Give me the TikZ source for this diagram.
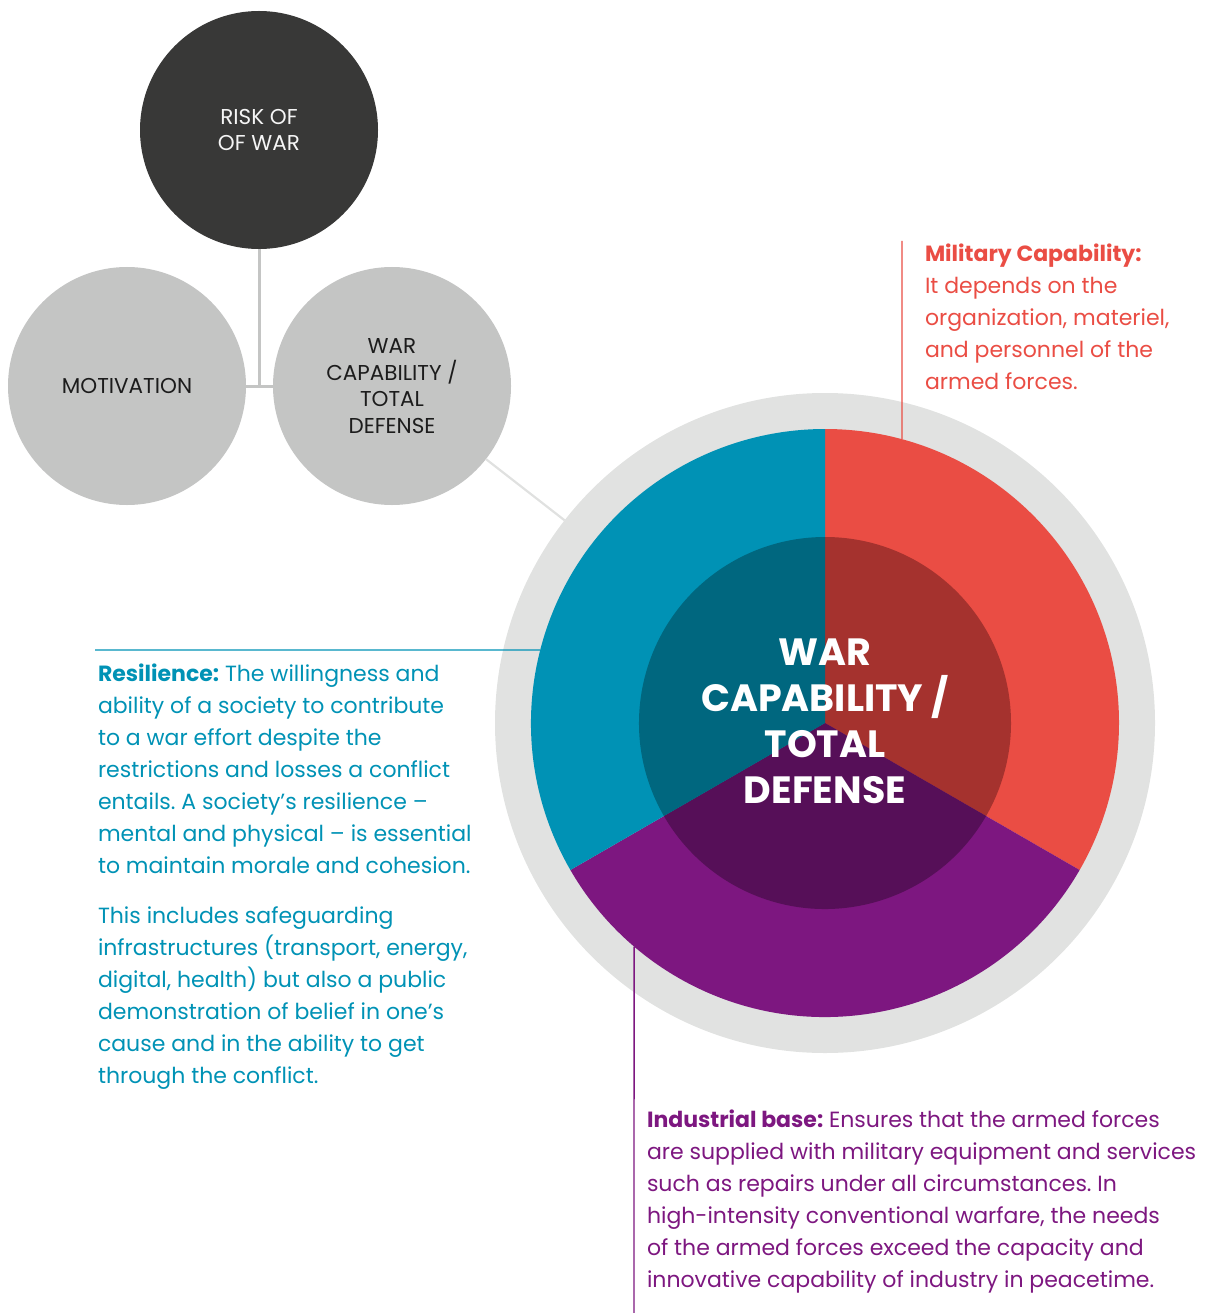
\documentclass[tikz,border=0pt]{standalone}
\usepackage{fontspec}
\setmainfont{Poppins}
\frenchspacing
\usetikzlibrary{calc}
\definecolor{ringgray}{HTML}{E1E2E1}
\definecolor{cgray}{HTML}{C4C5C4}
\definecolor{cdark}{HTML}{383837}
\definecolor{cblue}{HTML}{0092B5}
\definecolor{cred}{HTML}{EA4D44}
\definecolor{cpurple}{HTML}{7D1780}
\definecolor{dblue}{HTML}{00677F}
\definecolor{dred}{HTML}{A5322E}
\definecolor{dpurple}{HTML}{560F58}
\definecolor{linegray}{HTML}{E0E1E0}
\definecolor{conngray}{HTML}{C4C5C4}
\definecolor{ink}{HTML}{1C1C1C}
\begin{document}
\begin{tikzpicture}[x=1pt,y=1pt,
  bubble/.style={circle, minimum size=238pt, inner sep=0pt, outer sep=0pt, align=center,
    font=\fontsize{21.5}{26.7}\selectfont},
  conn/.style={draw=conngray, line width=3pt},
  annot/.style={anchor=base west, align=left, inner sep=0pt, outer sep=0pt,
    font=\fontsize{22}{32}\selectfont},
  tick/.style={line width=1.4pt}]
\useasboundingbox (0,0) rectangle (1211,-1313);
\coordinate (C) at (825,-723);
% outer grey ring
\node[circle, minimum size=660pt, inner sep=0pt, outer sep=0pt, fill=ringgray] (ring) at (C) {};
% coloured segments
\fill[cred] (C) -- ++(90:294) arc[start angle=90, end angle=-30, radius=294] -- cycle;
\fill[cpurple] (C) -- ++(-30:294) arc[start angle=-30, end angle=-150, radius=294] -- cycle;
\fill[cblue] (C) -- ++(210:294) arc[start angle=210, end angle=90, radius=294] -- cycle;
\fill[dred] (C) -- ++(90:186) arc[start angle=90, end angle=-30, radius=186] -- cycle;
\fill[dpurple] (C) -- ++(-30:186) arc[start angle=-30, end angle=-150, radius=186] -- cycle;
\fill[dblue] (C) -- ++(210:186) arc[start angle=210, end angle=90, radius=186] -- cycle;
\node[align=center, text=white, font=\bfseries\fontsize{38}{46}\selectfont, inner sep=0pt, anchor=base] (centre) at (825,-803)
  {WAR\\CAPABILITY /\\TOTAL\\DEFENSE};
% small circles
\node[bubble, fill=cdark, text=white!96!black] (risk) at (259,-130) {RISK OF\\OF WAR};
\node[bubble, fill=cgray, text=ink] (mot) at (127,-386) {MOTIVATION};
\node[bubble, fill=cgray, text=ink] (wcap) at (392,-386) {WAR\\CAPABILITY /\\TOTAL\\DEFENSE};
\draw[conn] (risk.south) -- (risk.south |- mot.east);
\draw[conn] (mot.east) -- (wcap.west);
\draw[draw=linegray, line width=2.2pt] (wcap) -- (ring);
% annotation lines
\coordinate (redtop) at (902,-241);
\coordinate (redend) at ($(C)+(74.82:294)$);
\draw[tick, cred] (redtop) -- (redend);
\coordinate (bluestart) at (95,-650);
\coordinate (blueend) at ($(C)+(165.62:294)$);
\draw[tick, cblue] (bluestart) -- (blueend);
\coordinate (purpend) at ($(C)+(229.5:294)$);
\coordinate (purpbot) at (634,-1313);
\draw[tick, cpurple] (purpend) -- (purpbot);
% texts (anchor base = baseline of last line)
\node[annot, text=cred] (miltext) at (925,-389)
  {\textbf{Military Capability:}\\It depends on the\\organization, materiel,\\and personnel of the\\armed forces.};
\node[annot, text=cblue] (restext) at (98,-1083)
  {\textbf{Resilience:} The willingness and\\ability of a society to contribute\\to a war effort despite the\\restrictions and losses a conflict\\entails. A society’s resilience –\\mental and physical – is essential\\to maintain morale and cohesion.\\[18pt]This includes safeguarding\\infrastructures (transport, energy,\\digital, health) but also a public\\demonstration of belief in one’s\\cause and in the ability to get\\through the conflict.};
\node[annot, text=cpurple] (indtext) at (647,-1287)
  {\textbf{Industrial base:} Ensures that the armed forces\\are supplied with military equipment and services\\such as repairs under all circumstances. In\\high-intensity conventional warfare, the needs\\of the armed forces exceed the capacity and\\innovative capability of industry in peacetime.};
\end{tikzpicture}
\end{document}
